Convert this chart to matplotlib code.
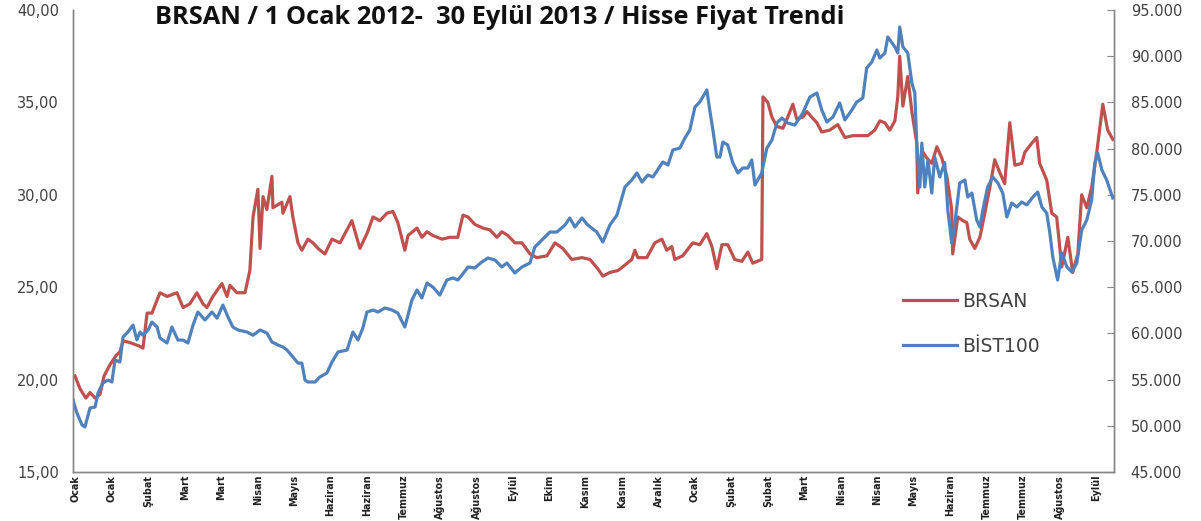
import matplotlib
matplotlib.use("Agg")
import matplotlib.pyplot as plt
from matplotlib.ticker import FuncFormatter, FixedLocator

# trading-day index (0 = 1 Ocak 2012) and values
brsan_day = [0.8, 2.9, 5.3, 7.0, 9.1, 11.1, 12.8, 15.2, 17.7, 19.3, 20.6, 23.5, 27.6, 28.8,
             30.5, 32.5, 35.8, 38.7, 42.8, 45.3, 48.1, 51.0, 53.5, 55.1, 57.6, 61.3, 63.4,
             64.6, 67.5, 70.8, 72.8, 74.1, 76.1, 77.0, 78.2, 79.8, 81.9, 82.3, 86.0, 86.4,
             89.3, 90.5, 92.6, 94.2, 96.7, 98.8, 100.8, 103.7, 106.6, 109.9, 114.8, 118.1,
             121.0, 123.5, 126.3, 129.2, 131.7, 133.7, 136.6, 137.9, 141.6, 143.6, 145.7,
             148.1, 151.9, 155.1, 158.4, 160.5, 162.6, 165.4, 168.7, 171.6, 174.5, 176.5,
             179.0, 181.9, 184.8, 188.1, 190.9, 195.1, 198.4, 201.6, 205.3, 209.5, 212.8,
             216.0, 218.1, 221.0, 224.3, 227.2, 230.0, 231.3, 232.5, 236.2, 239.5, 242.4,
             244.4, 246.5, 247.7, 251.0, 255.1, 258.0, 260.9, 263.0, 265.0, 267.1, 269.5,
             272.4, 275.3, 277.8, 279.8, 283.5, 284.0, 286.0, 287.7, 289.7, 292.2, 294.2,
             296.3, 297.9, 300.4, 302.1, 304.1, 306.2, 308.2, 311.5, 314.8, 317.7, 321.0,
             324.7, 327.2, 330.0, 332.1, 334.2, 336.2, 338.3, 339.5, 340.3, 341.6, 343.6,
             345.3, 347.3, 347.7, 349.4, 351.4, 353.5, 355.6, 357.6, 359.7, 361.7, 362.1,
             364.2, 366.3, 367.9, 369.1, 371.2, 373.3, 375.3, 377.4, 379.4, 381.5, 383.5,
             385.6, 387.7, 390.5, 391.8, 394.7, 396.7, 397.9, 400.8, 402.9, 404.9, 407.0,
             409.5, 411.5, 413.6, 415.2, 417.3, 419.3, 421.4, 423.9, 425.9, 428.0]
brsan_price = [20.2, 19.5, 19.0, 19.3, 19.0, 19.2, 20.2, 20.8, 21.3, 21.5, 22.1, 22.0, 21.8, 21.7,
               23.6, 23.6, 24.7, 24.5, 24.7, 23.9, 24.1, 24.7, 24.1, 23.9, 24.5, 25.2, 24.5,
               25.1, 24.7, 24.7, 25.9, 28.8, 30.3, 27.1, 29.9, 29.2, 31.0, 29.3, 29.6, 29.0,
               29.9, 28.8, 27.4, 27.0, 27.6, 27.4, 27.1, 26.8, 27.6, 27.4, 28.6, 27.1,
               27.9, 28.8, 28.6, 29.0, 29.1, 28.5, 27.0, 27.8, 28.2, 27.7, 28.0,
               27.8, 27.6, 27.7, 27.7, 28.9, 28.8, 28.4, 28.2, 28.1, 27.7, 28.0,
               27.8, 27.4, 27.4, 26.8, 26.6, 26.7, 27.4, 27.1, 26.5, 26.6, 26.5,
               26.0, 25.6, 25.8, 25.9, 26.2, 26.5, 27.0, 26.6, 26.6, 27.4, 27.6,
               27.0, 27.2, 26.5, 26.7, 27.4, 27.3, 27.9, 27.2, 26.0, 27.3, 27.3,
               26.5, 26.4, 26.9, 26.3, 26.5, 35.3, 35.0, 34.2, 33.7, 33.6, 34.2,
               34.9, 34.1, 34.2, 34.5, 34.2, 33.9, 33.4, 33.5, 33.8, 33.1, 33.2,
               33.2, 33.2, 33.5, 34.0, 33.9, 33.5, 34.0, 35.3, 37.5, 34.8, 36.4,
               34.5, 32.8, 30.1, 32.4, 32.0, 31.7, 32.6, 32.0, 31.0, 29.2, 26.8,
               28.8, 28.6, 28.5, 27.6, 27.1, 27.7, 29.0, 30.4, 31.9, 31.2, 30.6,
               33.9, 31.6, 31.7, 32.3, 32.8, 33.1, 31.7, 30.8, 29.0, 28.8, 26.1,
               27.7, 25.8, 26.8, 30.0, 29.3, 30.4, 32.3, 34.9, 33.5, 33.0]

bist_day = [0.0, 1.6, 3.7, 4.9, 7.0, 9.1, 10.3, 12.3, 14.4, 16.0, 17.3, 19.3, 20.6, 22.6, 24.7,
            26.3, 27.6, 28.8, 30.9, 32.5, 34.6, 35.8, 38.7, 40.7, 43.2, 45.3, 47.3, 49.4,
            51.4, 54.3, 57.2, 59.3, 61.7, 63.8, 65.8, 67.9, 71.6, 74.1, 77.0, 79.8, 81.9,
            84.4, 86.4, 88.1, 90.5, 92.6, 94.2, 95.5, 96.7, 99.6, 101.6, 104.5, 106.6,
            109.1, 112.8, 115.2, 117.3, 119.3, 121.0, 123.5, 125.5, 128.4, 131.3, 133.7,
            136.6, 139.5, 141.6, 143.6, 145.7, 148.1, 151.0, 153.9, 156.4, 158.4, 160.1,
            162.6, 165.4, 168.3, 170.8, 173.7, 176.5, 178.6, 181.9, 184.8, 188.1, 190.1,
            193.0, 196.3, 199.2, 202.5, 204.5, 206.6, 209.5, 211.9, 215.6, 218.1, 221.0,
            223.9, 227.2, 230.0, 232.1, 234.2, 236.6, 238.7, 242.8, 244.9, 246.9, 249.8,
            251.9, 253.9, 256.0, 258.0, 260.9, 262.1, 263.4, 265.0, 266.3, 267.5, 269.5,
            271.6, 273.7, 275.7, 277.8, 279.4, 280.7, 283.5, 285.6, 287.7, 289.7, 291.8,
            294.2, 297.1, 300.4, 303.3, 306.2, 308.2, 310.3, 312.8, 315.6, 317.7, 320.6,
            322.6, 325.1, 326.7, 328.8, 330.9, 332.1, 334.2, 335.4, 338.3, 339.5, 340.3,
            341.6, 343.6, 345.3, 346.5, 347.3, 348.6, 349.4, 350.6, 351.9, 353.5, 354.7,
            356.8, 358.8, 360.1, 361.7, 363.0, 365.0, 367.1, 368.3, 370.0, 372.0, 373.3,
            374.5, 376.5, 378.6, 380.7, 382.7, 384.4, 386.4, 388.5, 390.5, 392.6, 395.1,
            397.1, 398.8, 400.8, 402.1, 403.3, 405.3, 407.0, 409.1, 411.1, 413.2, 415.2,
            417.3, 419.3, 420.6, 421.8, 423.5, 425.5, 428.0]
bist_index = [52790, 51400, 50100, 49870, 51920, 52030, 53550, 54630, 54950, 54740, 57120, 56900,
              59600, 60150, 60900, 59300, 60150, 59800, 60370, 61230, 60690, 59500, 58960,
              60690, 59280, 59280, 58960, 60900, 62310, 61450, 62310, 61650, 63070, 61770,
              60690, 60370, 60150, 59800, 60370, 60040, 59070, 58740, 58530, 58200, 57440,
              56790, 56790, 54950, 54740, 54740, 55280, 55710, 56900, 57990, 58200, 60150,
              59280, 60580, 62310, 62530, 62310, 62750, 62530, 62200, 60690, 63610, 64700,
              63830, 65450, 65020, 64150, 65780, 66000, 65780, 66320, 67190, 67080, 67730,
              68160, 67940, 67190, 67620, 66540, 67190, 67620, 69350, 70110, 70970, 70970,
              71730, 72490, 71510, 72490, 71730, 70970, 69890, 71730, 72810, 75840, 76600,
              77360, 76380, 77140, 76930, 78550, 78220, 79850, 80060, 81150, 82010, 84500,
              85040, 86340, 84180, 82010, 79090, 79090, 80710, 80390, 78440, 77360, 77900,
              77900, 78770, 76060, 77360, 80060, 80930, 82770, 83310, 82770, 82550, 83850,
              85580, 86020, 84180, 82880, 83420, 84940, 83100, 84180, 85040, 85480, 88720,
              89370, 90670, 89800, 90350, 92080, 91000, 90350, 93160, 91000, 90350, 87100,
              86020, 80600, 75840, 80600, 75840, 78770, 75190, 79090, 76930, 78500, 73350,
              69780, 71950, 76280, 76600, 74760, 75190, 72270, 71510, 73350, 75840, 76930,
              76280, 75190, 72600, 74110, 73680, 74220, 73900, 74760, 75300, 73680, 73020,
              70850, 68270, 65780, 68700, 67190, 66650, 67620, 71190, 72270, 74440, 78440,
              79520, 77690, 76600, 74650]

month_labels = ["Ocak", "Ocak", "Şubat", "Mart", "Mart", "Nisan", "Mayıs", "Haziran", "Haziran",
                "Temmuz", "Ağustos", "Ağustos", "Eylül", "Ekim", "Kasım", "Kasım", "Aralık",
                "Ocak", "Şubat", "Şubat", "Mart", "Nisan", "Nisan", "Mayıs", "Haziran",
                "Temmuz", "Temmuz", "Ağustos", "Eylül"]
label_days = [1 + 15 * k for k in range(len(month_labels))]

RED = "#C0504D"
BLUE = "#4F81BD"
AXIS = "#868686"
TXT = "#404040"

fig = plt.figure(figsize=(12.01, 5.21), dpi=100)
ax = fig.add_axes([73 / 1201, 1 - 472 / 521, (1114 - 73) / 1201, 462 / 521])
ax2 = ax.twinx()

ax.plot(brsan_day, brsan_price, color=RED, lw=2.3, solid_joinstyle="round", label="BRSAN")
ax2.plot(bist_day, bist_index, color=BLUE, lw=2.3, solid_joinstyle="round", label="BİST100")
ax.set_zorder(1)
ax2.set_zorder(2)
ax2.patch.set_visible(False)

ax.set_xlim(0, 428.5)
ax.set_ylim(15, 40)
ax.set_yticks(range(15, 41, 5))
ax.yaxis.set_major_formatter(FuncFormatter(lambda v, _: f"{v:.2f}".replace(".", ",")))
ax2.set_ylim(45000, 95000)
ax2.set_yticks(range(45000, 95001, 5000))
ax2.yaxis.set_major_formatter(FuncFormatter(lambda v, _: f"{int(v):,}".replace(",", ".")))

ax.xaxis.set_major_locator(FixedLocator(label_days))
ax.set_xticklabels(month_labels, rotation=90, fontsize=6.9, fontweight="bold",
                   family=["DejaVu Sans Condensed", "Liberation Sans Narrow", "DejaVu Sans"],
                   color="#202020")
ax.tick_params(axis="x", length=0, pad=2)
ax.tick_params(axis="y", length=0, pad=10, labelsize=10.5, labelcolor=TXT)
ax2.tick_params(axis="y", direction="in", length=5, color=AXIS, pad=12,
                labelsize=10.5, labelcolor=TXT)

for a in (ax, ax2):
    a.spines["top"].set_visible(False)
    for s in ("left", "right", "bottom"):
        a.spines[s].set_color(AXIS)
        a.spines[s].set_linewidth(1.0)

fig.text(0.416, 1 - 18 / 521, "BRSAN / 1 Ocak 2012-  30 Eylül 2013 / Hisse Fiyat Trendi",
         ha="center", va="center", fontsize=18.3, fontweight="bold",
         family=["Open Sans", "DejaVu Sans"], color="#111111")

h1, l1 = ax.get_legend_handles_labels()
h2, l2 = ax2.get_legend_handles_labels()
ax2.legend(h1 + h2, l1 + l2, loc="upper left", bbox_to_anchor=(886 / 1201, 1 - 275 / 521),
           bbox_transform=fig.transFigure, frameon=False, fontsize=13.5,
           handlelength=2.9, handletextpad=0.25, labelspacing=1.38, labelcolor=TXT)

fig.savefig("out.png", dpi=100)
